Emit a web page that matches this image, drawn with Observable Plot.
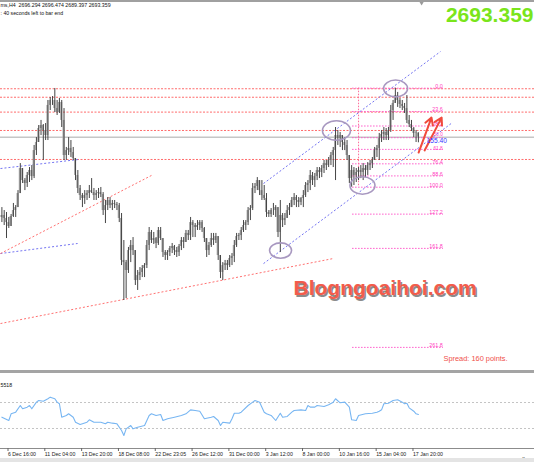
<!DOCTYPE html>
<html><head><meta charset="utf-8">
<script src="https://cdn.jsdelivr.net/npm/d3@7"></script>
<script src="https://cdn.jsdelivr.net/npm/@observablehq/plot@0.6"></script>
<style>
html,body{margin:0;padding:0;background:#fff;}
#wrap{position:relative;width:534px;height:462px;overflow:hidden;font-family:"Liberation Sans",Arial,sans-serif;}
#wrap svg{display:block;}
#main{position:absolute;left:0;top:0;}
#sep{position:absolute;left:0;top:370px;width:534px;height:3px;background:#a4a4a4;}
#sub{position:absolute;left:0;top:373px;}
#topline{position:absolute;left:0;top:0;width:534px;height:2px;background:#a0a0a0;}
#bottomband{position:absolute;left:0;top:458px;width:534px;height:4px;background:#e4e4e4;}
</style></head><body>
<div id="wrap"><div id="main"></div><div id="sep"></div><div id="sub"></div><div id="topline"></div><div id="bottomband"></div></div>
<script>
// ---------- DATA (XAUUSD H4) ----------
const firstOpen = 2636.6;
const highs = [
2643.6,2641.5,2640.1,2636.6,2638.7,2646.5,2645.0,2655.6,2674.7,2671.2,
2664.1,2668.4,2671.9,2673.3,2687.5,2693.1,2701.6,2705.2,2702.3,2703.0,
2719.3,2721.4,2722.1,2727.8,2719.3,2720.7,2719.3,2713.6,2686.1,2693.1,
2691.0,2686.1,2678.3,2669.8,2659.2,2653.5,2655.6,2655.6,2659.2,2664.1,
2657.1,2655.6,2657.1,2657.8,2654.2,2648.6,2650.7,2650.7,2648.6,2648.6,
2647.2,2646.5,2639.4,2620.3,2606.2,2615.4,2620.3,2622.4,2613.2,2599.1,
2601.2,2602.6,2604.0,2620.3,2629.5,2627.4,2626.0,2622.4,2629.5,2629.5,
2621.7,2613.2,2613.2,2616.1,2618.2,2616.8,2615.4,2617.5,2622.4,2622.4,
2627.4,2627.4,2636.6,2634.4,2632.3,2634.4,2634.4,2634.4,2629.5,2621.7,
2618.9,2625.3,2625.3,2625.3,2623.1,2609.7,2604.7,2606.2,2606.2,2609.7,
2611.1,2620.3,2625.3,2625.3,2629.5,2634.4,2634.4,2643.6,2645.0,2660.6,
2660.6,2664.8,2662.7,2662.7,2659.2,2653.5,2641.5,2642.9,2646.5,2645.0,
2643.6,2648.6,2639.4,2639.4,2645.0,2646.5,2650.7,2653.5,2652.1,2650.7,
2650.7,2655.6,2661.3,2662.7,2669.8,2668.4,2667.7,2671.9,2671.9,2673.3,
2676.9,2676.9,2679.0,2682.5,2686.1,2700.2,2698.1,2696.7,2694.5,2693.1,
2691.0,2680.4,2673.3,2671.9,2671.2,2671.9,2673.3,2674.7,2673.3,2675.4,
2676.9,2679.0,2686.1,2687.5,2696.0,2698.1,2700.2,2699.5,2700.2,2715.8,
2719.3,2728.0,2725.0,2720.7,2719.3,2717.2,2722.8,2708.7,2705.2,2700.2,
2698.1,2696.474];
const lows = [
2633.0,2630.9,2621.7,2628.8,2630.2,2636.6,2636.6,2643.6,2653.5,2660.6,
2655.6,2657.8,2661.3,2662.7,2664.1,2680.4,2689.6,2694.5,2676.9,2691.0,
2691.0,2712.2,2715.8,2710.8,2708.7,2710.1,2700.2,2676.9,2676.9,2680.4,
2679.0,2676.9,2662.7,2653.5,2648.6,2643.6,2645.8,2648.6,2650.0,2653.5,
2648.6,2648.6,2650.0,2650.7,2638.0,2632.3,2641.5,2642.9,2641.5,2642.9,
2641.5,2633.0,2602.6,2577.9,2579.3,2597.0,2604.7,2609.7,2588.5,2585.0,
2592.0,2594.1,2594.1,2600.5,2613.2,2618.2,2617.5,2614.6,2616.8,2620.3,
2608.3,2606.2,2606.2,2609.0,2611.1,2609.7,2608.3,2609.0,2613.2,2614.6,
2618.9,2620.3,2620.3,2622.4,2622.4,2627.4,2627.4,2626.0,2618.9,2608.3,
2609.7,2615.4,2616.8,2618.2,2606.2,2593.4,2592.0,2599.1,2599.1,2601.2,
2602.6,2604.7,2615.4,2620.3,2620.3,2626.0,2627.4,2630.9,2634.4,2641.5,
2653.5,2655.6,2652.1,2648.6,2648.6,2636.6,2636.6,2636.6,2638.0,2636.6,
2622.4,2611.8,2629.5,2630.9,2635.9,2638.0,2643.6,2645.0,2643.6,2643.6,
2645.0,2643.6,2650.7,2654.2,2655.6,2659.2,2657.8,2662.7,2664.1,2664.8,
2667.7,2669.8,2671.9,2673.3,2671.9,2662.7,2687.5,2686.1,2683.9,2683.9,
2676.9,2660.6,2658.0,2659.2,2661.3,2662.7,2664.1,2662.7,2664.8,2666.3,
2669.8,2671.2,2676.9,2679.0,2676.9,2689.6,2691.0,2691.0,2691.0,2696.7,
2705.2,2717.2,2714.4,2713.6,2712.2,2710.1,2703.0,2700.2,2697.4,2693.1,
2689.6,2689.397];
const closes = [
2638.0,2635.9,2633.0,2630.2,2637.3,2641.5,2643.6,2653.5,2671.2,2662.7,
2660.6,2666.3,2669.8,2665.5,2683.9,2689.6,2699.5,2701.6,2698.1,2694.5,
2715.8,2719.3,2719.3,2713.6,2710.8,2717.9,2705.2,2680.4,2683.9,2685.4,
2682.5,2678.3,2666.3,2657.1,2652.1,2650.0,2652.1,2653.5,2655.6,2654.2,
2652.1,2653.5,2654.2,2652.8,2641.5,2645.0,2648.6,2645.0,2646.5,2645.8,
2645.0,2635.9,2606.2,2604.7,2599.1,2613.2,2616.8,2613.2,2592.0,2595.5,
2597.7,2600.5,2602.6,2616.8,2626.0,2620.3,2621.7,2618.2,2627.4,2621.7,
2611.8,2609.7,2611.8,2614.6,2616.1,2613.2,2611.8,2616.1,2620.3,2618.9,
2625.3,2623.8,2633.0,2630.9,2629.5,2630.9,2633.0,2628.8,2621.7,2613.2,
2616.8,2621.7,2620.3,2623.1,2609.7,2597.7,2602.6,2604.0,2602.6,2607.6,
2609.0,2616.8,2623.1,2623.8,2627.4,2630.9,2633.0,2641.5,2642.9,2657.1,
2658.5,2662.7,2655.6,2652.1,2650.0,2640.1,2638.7,2641.5,2641.5,2643.6,
2626.0,2638.0,2634.4,2635.9,2641.5,2643.6,2648.6,2650.7,2648.6,2647.2,
2650.0,2652.1,2659.2,2660.6,2666.3,2662.7,2665.5,2669.8,2668.4,2671.2,
2674.7,2673.3,2676.9,2680.4,2683.9,2694.5,2692.4,2694.5,2689.6,2687.5,
2680.4,2664.1,2669.8,2666.3,2668.4,2669.8,2668.4,2671.2,2669.8,2673.3,
2674.7,2676.9,2683.9,2685.4,2692.4,2695.3,2696.7,2694.5,2698.1,2712.2,
2717.2,2722.8,2719.3,2716.5,2715.1,2713.6,2705.2,2702.3,2699.5,2696.0,
2696.294,2693.359];

const bidPrice = 2693.359;
const redLevels = [2727.6, 2721.6, 2711.1, 2698.1, 2677.6];

const fibHigh = 2728.0, fibLow = 2658.0;
const fibLevels = [0, 23.6, 38.2, 50, 61.8, 76.4, 88.6, 100, 127.2, 161.8, 261.8];
const fibLabels = ["0.0","23.6","38.2","50.0","61.8","76.4","88.6","100.0","127.2","161.8","261.8"];
const fibStartBar = 152.4, fibEndBar = 191.9, fibVertBar = 155;

const blueStartBar = [-0.61, -0.61, 113.7, 113.7];
const blueStartPrice = [2671.2, 2611.1, 2660.6, 2604.0];
const blueEndBar = [33.3, 32.9, 190.6, 195.8];
const blueEndPrice = [2677.6, 2618.2, 2753.9, 2703.7];
const redStartBar = [-0.61, -0.61];
const redStartPrice = [2611.1, 2561.6];
const redEndBar = [65.0, 144.1];
const redEndPrice = [2666.3, 2607.6];

const ellBar = [121.1, 145.4, 156.7, 171.1];
const ellPrice = [2613.2, 2698.1, 2659.2, 2727.8];
const ellR = [11, 14, 12.5, 12];

const arrStartBar = [181.1, 183.7], arrStartPrice = [2682.5, 2684.0];
const arrEndBar = [186.7, 191.1], arrEndPrice = [2707.2, 2707.2];

const indIdx = [0,3,4,6,8,9,11,12,13,15,16,18,20,21,23,24,25,26,28,29,31,32,34,37,38,40,43,45,46,48,50,52,53,54,56,57,59,62,63,64,65,67,69,70,72,75,78,80,82,84,86,88,91,92,94,95,96,99,100,101,103,104,107,109,110,112,114,115,117,119,121,122,124,126,127,130,132,133,134,136,137,140,142,144,145,147,149,151,152,154,155,158,161,163,164,165,166,168,170,172,174,175,176,177,179,180,181];
const indVal = [47.4,42.3,52.6,55.1,65.4,60.3,62.8,65.4,60.3,70.5,73.1,72.0,75.7,78.2,75.7,70.5,68.0,47.4,50.0,52.6,47.4,39.7,36.2,39.7,43.4,39.7,39.7,37.2,39.7,38.2,37.2,26.9,19.2,29.5,34.6,29.5,32.0,34.6,42.3,50.0,52.6,50.0,51.5,42.3,44.9,47.4,50.0,52.6,58.7,57.7,56.6,44.9,47.4,48.5,42.3,34.6,39.7,38.2,44.9,53.5,53.5,55.1,65.4,70.5,73.1,70.5,55.1,52.6,50.0,42.3,53.5,47.4,48.5,55.1,57.7,58.7,57.7,65.4,62.8,62.8,65.4,63.8,66.5,70.5,75.7,69.5,70.5,62.8,43.4,42.3,50.0,52.6,53.5,55.1,56.6,58.7,68.0,68.9,73.1,74.1,70.5,68.0,68.9,61.8,56.6,52.6,51.5];
const indLevels = [70, 30];

const tickBars = [2,18,34,50,66,82,98,114,130,146,162,178];
const tickLabels = ["6 Dec 16:00","11 Dec 04:00","13 Dec 20:00","18 Dec 08:00","22 Dec 23:05","26 Dec 12:00","31 Dec 00:00","3 Jan 12:00","8 Jan 00:00","10 Jan 16:00","15 Jan 04:00","17 Jan 20:00"];

// ---------- BUILD ----------
const W = 534, HM = 370, HS = 89;
const x0px = 1.4, barPx = 2.301;
const xDomain = [(0 - x0px) / barPx, (W - x0px) / barPx];
const yDomain = [2528.4, 2790.0];
const FONT = "Liberation Sans, Arial, sans-serif";

const bars = highs.map((h, i) => ({i, open: i === 0 ? firstOpen : closes[i - 1], high: h, low: lows[i], close: closes[i]}));
const fib = fibLevels.map((l, k) => ({price: fibHigh - l / 100 * (fibHigh - fibLow), label: fibLabels[k]}));
const fibShown = fib.filter(d => d.label !== "50.0" && d.label !== "61.8");
const fibHalf = fib.filter(d => d.label === "50.0");
const fibSix = fib.filter(d => d.label === "61.8");
const blue = blueStartBar.map((b, k) => ({x1: b, y1: blueStartPrice[k], x2: blueEndBar[k], y2: blueEndPrice[k]}));
const red = redStartBar.map((b, k) => ({x1: b, y1: redStartPrice[k], x2: redEndBar[k], y2: redEndPrice[k]}));
const ells = ellBar.map((b, k) => ({x: b, y: ellPrice[k], r: ellR[k]}));
const arrows = arrStartBar.map((b, k) => ({x1: b, y1: arrStartPrice[k], x2: arrEndBar[k], y2: arrEndPrice[k]}));
const ind = indIdx.map((b, k) => ({x: b, v: indVal[k]}));
const tickMap = new Map(tickBars.map((b, k) => [b, tickLabels[k]]));

const ellipseSymbol = {
  draw(ctx, size) {
    const rx = Math.sqrt(size / Math.PI), ry = rx * 0.7, k = 0.5523;
    ctx.moveTo(rx, 0);
    ctx.bezierCurveTo(rx, ry * k, rx * k, ry, 0, ry);
    ctx.bezierCurveTo(-rx * k, ry, -rx, ry * k, -rx, 0);
    ctx.bezierCurveTo(-rx, -ry * k, -rx * k, -ry, 0, -ry);
    ctx.bezierCurveTo(rx * k, -ry, rx, -ry * k, rx, 0);
    ctx.closePath();
  }
};

const main = Plot.plot({
  width: W, height: HM, margin: 0,
  x: {domain: xDomain, axis: null},
  y: {domain: yDomain, axis: null},
  r: {type: "identity"},
  style: {background: "transparent", fontFamily: FONT, overflow: "visible"},
  marks: [
    Plot.ruleY(redLevels, {stroke: "#ff6b6b", strokeDasharray: "2,1.5", strokeWidth: 1}),
    Plot.ruleY([bidPrice], {stroke: "#c6c6c6", strokeWidth: 1.5}),
    Plot.ruleY(fib, {y: "price", x1: fibStartBar, x2: fibEndBar, stroke: "#ff5ccb", strokeDasharray: "1.5,1.5", strokeWidth: 1}),
    Plot.ruleX([fibVertBar], {y1: fibHigh, y2: fibLow, stroke: "#ff6b9a", strokeDasharray: "1.5,1.5"}),
    Plot.text(fibShown, {x: fibEndBar - 0.3, y: "price", text: "label", textAnchor: "end", lineAnchor: "bottom", dy: -0.3, fontSize: 5.4, fill: "#ff3fbf"}),
    Plot.text(fibHalf, {x: fibEndBar - 0.3, y: "price", text: "label", textAnchor: "end", lineAnchor: "bottom", dy: -1.2, fontSize: 4.6, fill: "#ff3fbf"}),
    Plot.text(fibSix, {x: fibEndBar - 0.3, y: "price", text: "label", textAnchor: "end", lineAnchor: "bottom", dy: 0.4, fontSize: 4.8, fill: "#ff3fbf"}),
    Plot.link(blue, {x1: "x1", y1: "y1", x2: "x2", y2: "y2", stroke: "#7474f2", strokeDasharray: "2,2", strokeWidth: 1}),
    Plot.link(red, {x1: "x1", y1: "y1", x2: "x2", y2: "y2", stroke: "#ff7070", strokeDasharray: "2,2", strokeWidth: 1}),
    Plot.rect(bars, {x1: d => d.i - 0.45, x2: d => d.i + 0.45, y1: "open", y2: "close", fill: "#ababab"}),
    Plot.ruleX(bars, {x: "i", y1: "low", y2: "high", stroke: "#454545", strokeWidth: 1}),
    Plot.dot(ells, {x: "x", y: "y", r: "r", symbol: ellipseSymbol, stroke: "#a898c0", strokeWidth: 1.6, fill: "none"}),
    Plot.arrow(arrows, {x1: "x1", y1: "y1", x2: "x2", y2: "y2", stroke: "#f04a3c", strokeWidth: 2, headLength: 6}),
    Plot.text(["155.40"], {x: 184.6, y: 2690.6, text: d => d, textAnchor: "start", lineAnchor: "middle", fontSize: 6.6, fill: "#3333ff"}),
    Plot.dot([182.4], {x: d => d, frameAnchor: "top", dy: 2, r: 2, symbol: "triangle", rotate: 180, fill: "#9a9a9a"}),
    Plot.text(["ms,H4  2696.294 2696.474 2689.397 2693.359"], {text: d => d, frameAnchor: "top-left", dx: 0, dy: 3, lineAnchor: "top", fontSize: 5.25, fill: "#111"}),
    Plot.text([": 40 seconds left to bar end"], {text: d => d, frameAnchor: "top-left", dx: 0, dy: 11, lineAnchor: "top", fontSize: 5.2, fill: "#111"}),
    Plot.text(["2693.359"], {text: d => d, frameAnchor: "top-right", dx: -1, dy: 7, lineAnchor: "top", textAnchor: "end", fontSize: 21, fontWeight: "bold", fill: "#7ae51b"}),
    Plot.text(["Blogngoaihoi.com"], {text: d => d, frameAnchor: "top-left", dx: 294.5, dy: 281.5, lineAnchor: "top", textAnchor: "start", fontSize: 21, fontWeight: "bold", fill: "#8c8c8c"}),
    Plot.text(["Blogngoaihoi.com"], {text: d => d, frameAnchor: "top-left", dx: 293, dy: 280, lineAnchor: "top", textAnchor: "start", fontSize: 21, fontWeight: "bold", fill: "#f25c4c"}),
    Plot.text(["Spread: 160 points."], {text: d => d, frameAnchor: "top-left", dx: 443, dy: 355, lineAnchor: "top", textAnchor: "start", fontSize: 7.4, fill: "#f0504a"})
  ]
});
document.getElementById("main").append(main);

const sub = Plot.plot({
  width: W, height: HS, marginTop: 0, marginBottom: 14, marginLeft: 0, marginRight: 0,
  x: {domain: xDomain},
  y: {domain: [-0.77, 114.6], axis: null},
  style: {background: "transparent", fontFamily: FONT, overflow: "visible"},
  marks: [
    Plot.ruleY(indLevels, {stroke: "#c4c4c4", strokeDasharray: "2,2"}),
    Plot.ruleY([-0.77], {stroke: "#8c8c8c", strokeWidth: 1}),
    Plot.line(ind, {x: "x", y: "v", stroke: "#78b6f2", strokeWidth: 1.1}),
    Plot.axisX({ticks: tickBars, tickFormat: d => tickMap.get(d), tickSize: 3, tickPadding: 0.5, textAnchor: "start", dx: 1.5, fontSize: 5.2, stroke: "#666", fill: "#222"}),
    Plot.text(["5518"], {text: d => d, frameAnchor: "top-left", dx: 0, dy: 10, lineAnchor: "top", fontSize: 5.2, fill: "#111"})
  ]
});
document.getElementById("sub").append(sub);
</script>
</body></html>
